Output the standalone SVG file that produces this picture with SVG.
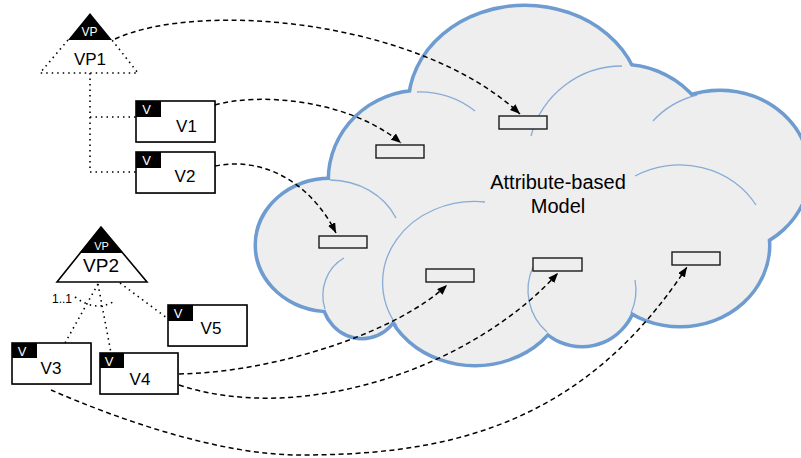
<svg xmlns="http://www.w3.org/2000/svg" width="801" height="458" viewBox="0 0 801 458">
<style>
text{font-family:"Liberation Sans",Arial,sans-serif;fill:#000}
.lobeS{fill:none;stroke:#6E9BD0;stroke-width:7}
.lobeF{fill:#EEEEEE;stroke:none}
.inner{fill:none;stroke:#6E9BD0;stroke-width:1.3;stroke-opacity:0.8}
.attr{fill:#EEEEEE;stroke:#1a1a1a;stroke-width:1.4}
.box{fill:#fff;stroke:#000;stroke-width:1.6}
.shadow{fill:#bbb;stroke:none}
.tab{fill:#000}
.tabt{fill:#fff;font-size:13px;text-anchor:middle}
.lbl{font-size:17px;text-anchor:middle}
.dot{fill:none;stroke:#000;stroke-width:1.6;stroke-dasharray:1.5 4;stroke-linecap:butt}
.dash{fill:none;stroke:#000;stroke-width:1.5;stroke-dasharray:5 3.5;marker-end:url(#arr)}
</style>
<defs>
<marker id="arr" viewBox="0 0 10 8" refX="10" refY="4" markerWidth="10" markerHeight="8" markerUnits="userSpaceOnUse" orient="auto">
<path d="M0,0 L10,4 L0,8 z" fill="#000"/>
</marker>
</defs>

<g id="cloud">
<g>
<ellipse class="lobeS" cx="525" cy="105" rx="115" ry="98"/>
<ellipse class="lobeS" cx="420" cy="180" rx="90" ry="88"/>
<ellipse class="lobeS" cx="622" cy="160" rx="94" ry="94"/>
<ellipse class="lobeS" cx="720" cy="172" rx="88" ry="80"/>
<ellipse class="lobeS" cx="680" cy="245" rx="88" ry="80"/>
<ellipse class="lobeS" cx="582" cy="290" rx="54" ry="55"/>
<ellipse class="lobeS" cx="475" cy="283" rx="92" ry="81"/>
<ellipse class="lobeS" cx="330" cy="245" rx="73" ry="65"/>
<ellipse class="lobeS" cx="362" cy="295" rx="39" ry="42"/>
</g>
<g>
<ellipse class="lobeF" cx="525" cy="105" rx="115" ry="98"/>
<ellipse class="lobeF" cx="420" cy="180" rx="90" ry="88"/>
<ellipse class="lobeF" cx="622" cy="160" rx="94" ry="94"/>
<ellipse class="lobeF" cx="720" cy="172" rx="88" ry="80"/>
<ellipse class="lobeF" cx="680" cy="245" rx="88" ry="80"/>
<ellipse class="lobeF" cx="582" cy="290" rx="54" ry="55"/>
<ellipse class="lobeF" cx="475" cy="283" rx="92" ry="81"/>
<ellipse class="lobeF" cx="330" cy="245" rx="73" ry="65"/>
<ellipse class="lobeF" cx="362" cy="295" rx="39" ry="42"/>
<ellipse class="lobeF" cx="555" cy="225" rx="80" ry="55"/>
</g>
<g>
<path class="inner" d="M417,92 A90 88 0 0 1 475,111"/>
<path class="inner" d="M622,66 A94 94 0 0 0 531,136"/>
<path class="inner" d="M697,95 A88 80 0 0 0 653,121"/>
<path class="inner" d="M756,205 A88 80 0 0 0 635,176"/>
<path class="inner" d="M547,332 A54 55 0 0 1 533,267"/>
<path class="inner" d="M631,313 A54 55 0 0 0 635,280"/>
<path class="inner" d="M397,326 A92 81 0 0 1 485,202"/>
<path class="inner" d="M330,180 A73 65 0 0 1 396,218"/>
<path class="inner" d="M325,309 A39 42 0 0 1 344,258"/>
</g>
<text x="558" y="189" font-size="20" text-anchor="middle">Attribute-based</text>
<text x="558" y="213" font-size="20" text-anchor="middle">Model</text>
</g>

<g id="attributes">
<rect id="a1" class="attr" x="499" y="116" width="48" height="13"/>
<rect id="a2" class="attr" x="376" y="145" width="48" height="13"/>
<rect id="a3" class="attr" x="319" y="236" width="48" height="12"/>
<rect id="a4" class="attr" x="426" y="269" width="48" height="13"/>
<rect id="a5" class="attr" x="533" y="258" width="49" height="13"/>
<rect id="a6" class="attr" x="672" y="252" width="48" height="13"/>
</g>

<g id="VP1">
<path d="M90,13 L112,40 L68,40 Z" fill="#000"/>
<path class="dot" d="M68,40 L40,73 L138,73 L112,40"/>
<text x="89.5" y="36" font-size="12" text-anchor="middle" style="fill:#fff">VP</text>
<text x="90" y="65" font-size="17" text-anchor="middle">VP1</text>
</g>

<g id="VP2">
<path d="M101,227 L147,282 L57,282 Z" fill="#fff" stroke="#000" stroke-width="1.6" stroke-linejoin="miter"/>
<path d="M101,227 L122.5,253 L79.5,253 Z" fill="#000"/>
<text x="101.5" y="250" font-size="11" text-anchor="middle" style="fill:#fff">VP</text>
<text x="101" y="272" font-size="19" text-anchor="middle">VP2</text>
</g>

<g id="V1">
<rect class="shadow" x="137" y="102" width="79" height="41"/>
<rect class="box" x="136" y="101" width="79" height="41"/>
<rect class="tab" x="136" y="101" width="25" height="16"/>
<text class="tabt" x="146.5" y="113.5">V</text>
<text class="lbl" x="186.5" y="132">V1</text>
</g>
<g id="V2">
<rect class="shadow" x="137" y="153" width="79" height="41"/>
<rect class="box" x="136" y="152" width="79" height="41"/>
<rect class="tab" x="136" y="152" width="25" height="16"/>
<text class="tabt" x="146.5" y="164.5">V</text>
<text class="lbl" x="185" y="182">V2</text>
</g>
<g id="V3">
<rect class="shadow" x="13" y="344" width="79" height="41"/>
<rect class="box" x="12" y="343" width="79" height="41"/>
<rect class="tab" x="12" y="343" width="25" height="15"/>
<text class="tabt" x="22" y="355.5">V</text>
<text class="lbl" x="51" y="374">V3</text>
</g>
<g id="V4">
<rect class="shadow" x="101" y="354" width="78" height="41"/>
<rect class="box" x="100" y="353" width="78" height="41"/>
<rect class="tab" x="100" y="353" width="24" height="15"/>
<text class="tabt" x="109" y="365.5">V</text>
<text class="lbl" x="140" y="385">V4</text>
</g>
<g id="V5">
<rect class="shadow" x="169" y="306" width="79" height="41"/>
<rect class="box" x="168" y="305" width="79" height="41"/>
<rect class="tab" x="168" y="305" width="25" height="16"/>
<text class="tabt" x="178" y="317.5">V</text>
<text class="lbl" x="211" y="334">V5</text>
</g>

<g id="connectors">
<path class="dot" d="M90,73 L90,172 L136,172"/>
<path class="dot" d="M90,117 L136,117"/>
<path class="dot" d="M98,284 L65,343"/>
<path class="dot" d="M98,284 L111,353"/>
<path class="dot" d="M120,283 L167,318"/>
<path class="dot" d="M75,297 Q95,312 113,302"/>
<text x="52" y="303" font-size="12">1..1</text>
<path class="dash" d="M115,39 C200,0 420,20 520,114"/>
<path class="dash" d="M215,105 C260,92 350,100 401,143"/>
<path class="dash" d="M215,166 C270,155 315,190 336,233"/>
<path class="dash" d="M179,374 C280,372 400,330 447,285"/>
<path class="dash" d="M179,385 C300,425 470,370 558,273"/>
<path class="dash" d="M51,390 C120,420 220,455 300,455 C440,455 580,430 687,267"/>
</g>
</svg>
